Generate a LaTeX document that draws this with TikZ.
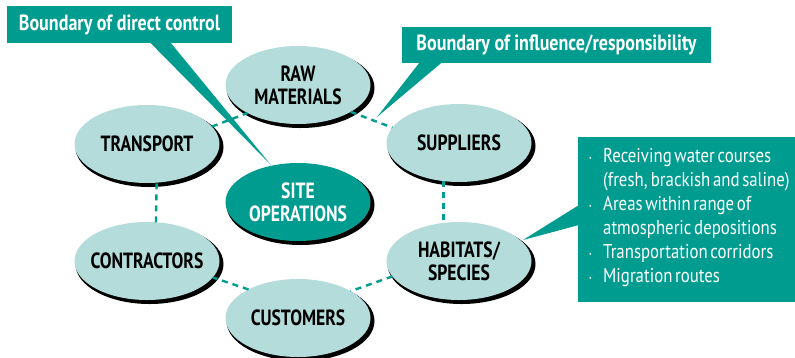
\documentclass[tikz,border=0pt]{standalone}
\usepackage{fontspec}
\setmainfont{PT Sans}[FakeStretch=0.8]
\newfontfamily\calloutfont{PT Sans}[FakeStretch=0.82]
\newfontfamily\infofont{PT Sans}[FakeStretch=0.84, WordSpace=0.6]
\usetikzlibrary{shapes.geometric}
\definecolor{deepteal}{HTML}{009C90}
\definecolor{paleteal}{HTML}{B3DCDA}
\tikzset{
  ring/.style={ellipse, fill=paleteal, minimum width=145pt, minimum height=78pt,
    inner xsep=-45pt, inner ysep=0pt, outer sep=0pt, align=center,
    font=\bfseries\fontsize{22}{23}\selectfont},
  core/.style={ring, fill=deepteal, text=white},
  ringshadow/.style={fill=black},
  link/.style={draw=deepteal, line width=2.4pt, dash pattern=on 6pt off 5pt},
  callout/.style={fill=deepteal, text=white, inner sep=0pt,
    font=\calloutfont\bfseries\fontsize{22}{24}\selectfont},
  tail/.style={fill=deepteal},
  infotext/.style={text=white, inner sep=0pt, align=left,
    font=\infofont\fontsize{20}{24}\selectfont}
}
\newcommand{\bul}{\makebox[14pt][l]{\raisebox{2pt}{\scriptsize\textbullet}}}
\begin{document}
\begin{tikzpicture}[x=1pt,y=-1pt]
  \useasboundingbox (0,0) rectangle (795,357);

  % ellipse centres
  \coordinate (rawc) at (298,85);
  \coordinate (transportc) at (147,144);
  \coordinate (suppliersc) at (459,143);
  \coordinate (sitec) at (298,202);
  \coordinate (contractorsc) at (147,261);
  \coordinate (habitatsc) at (459,261);
  \coordinate (customersc) at (298,318);

  % hard black shadows behind the ellipses
  \foreach \n in {rawc,transportc,suppliersc,sitec,contractorsc,habitatsc,customersc}
    \fill[ringshadow] (\n) ++(2.5,3) ellipse [x radius=74, y radius=40];

  % stakeholder ring
  \node[ring] (raw) at (rawc) {RAW\\MATERIALS};
  \node[ring] (transport) at (transportc) {TRANSPORT};
  \node[ring] (suppliers) at (suppliersc) {SUPPLIERS};
  \node[core] (site) at (sitec) {SITE\\OPERATIONS};
  \node[ring] (contractors) at (contractorsc) {CONTRACTORS};
  \node[ring] (habitats) at (habitatsc) {HABITATS/\\SPECIES};
  \node[ring] (customers) at (customersc) {CUSTOMERS};

  % dashed boundary of influence
  \draw[link] (transport.15) -- (raw.209);
  \draw[link] (raw.-27) -- (suppliers.167);
  \draw[link] (suppliers.-112) -- (habitats.112);
  \draw[link] (habitats.193) -- (customers.27);
  \draw[link] (customers.150) -- (contractors.-14);
  \draw[link] (contractors.77) -- (transport.-76);

  % callout: boundary of direct control
  \node[callout, minimum width=225pt, minimum height=37pt] (direct) at (119.5,24.5)
    {Boundary of direct control};
  \coordinate (directtip) at (271,165);
  \fill[tail] (direct.south west) ++(143,-1) -- (directtip)
    -- ([xshift=-62pt,yshift=1pt]direct.south east) -- cycle;

  % callout: boundary of influence
  \node[callout, minimum width=309pt, minimum height=36pt] (influence) at (556.5,45)
    {Boundary of influence/responsibility};
  \coordinate (influencetip) at (377,117);
  \fill[tail] (influence.south west) ++(18,-1) -- (influencetip)
    -- ([xshift=-269pt,yshift=1pt]influence.south east) -- cycle;

  % callout: habitats and species
  \node[fill=deepteal, minimum width=217pt, minimum height=165pt, inner sep=0pt,
    anchor=north west] (info) at (578,137) {};
  \coordinate (infotip) at (523,240);
  \fill[tail] ([xshift=1pt,yshift=-68pt]info.north west) -- (infotip)
    -- ([xshift=1pt,yshift=-88pt]info.north west) -- cycle;
  \node[infotext, anchor=north west] (infolist) at (589,148)
    {\bul Receiving water courses\\
     \hspace*{14pt}(fresh,\,brackish and saline)\\
     \bul Areas within range of\\
     \hspace*{14pt}atmospheric depositions\\
     \bul Transportation corridors\\
     \bul Migration routes};
\end{tikzpicture}
\end{document}
